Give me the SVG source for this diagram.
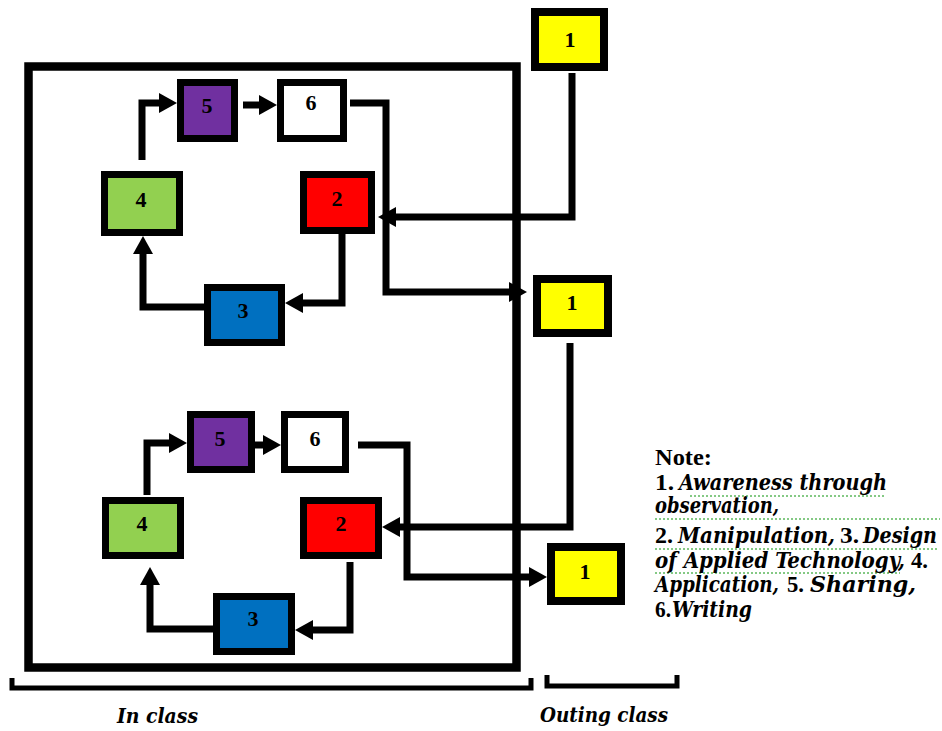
<svg xmlns="http://www.w3.org/2000/svg" width="942" height="731" viewBox="0 0 942 731">
<style>
.box{stroke:#000;stroke-width:7}
.yb{fill:#FFFF00;stroke:#000;stroke-width:8}
.lbl{font-family:"Liberation Serif",serif;font-weight:bold;font-size:22px;text-anchor:middle;fill:#000}
.con{fill:none;stroke:#000;stroke-width:7;stroke-linejoin:miter}
.brace{fill:none;stroke:#000;stroke-width:5}
.note{font-family:"Liberation Serif",serif;font-weight:bold;font-size:24px;fill:#000}
.it{font-family:"DejaVu Serif","Liberation Serif",serif;font-style:italic;font-weight:bold;font-stretch:condensed;font-size:22px;fill:#000}
.cap{font-family:"DejaVu Serif","Liberation Serif",serif;font-weight:bold;font-style:italic;font-stretch:condensed;font-size:21px;fill:#000}
.sq{fill:none;stroke:#5cb85c;stroke-width:1.5;stroke-dasharray:2 2}
</style>
<defs>
<marker id="ah" markerUnits="userSpaceOnUse" markerWidth="20" markerHeight="20" refX="0" refY="0" viewBox="0 -10 20 20" orient="auto" overflow="visible">
<path d="M0,-10 L18,0 L0,10 z" fill="#000"/>
</marker>
</defs>
<rect width="942" height="731" fill="#fff"/>
<g id="inclass-frame">
<rect x="28.5" y="66.5" width="488" height="601" fill="none" stroke="#000" stroke-width="8.5"/>
</g>
<g id="connectors">
<path class="con" d="M142,160 V103 H159" marker-end="url(#ah)"/>
<path class="con" d="M243,105 H259" marker-end="url(#ah)"/>
<path class="con" d="M350,103 H386 V292 H509" marker-end="url(#ah)"/>
<path class="con" d="M572,73 V217 H396" marker-end="url(#ah)"/>
<path class="con" d="M342,234 V303 H303" marker-end="url(#ah)"/>
<path class="con" d="M204,307 H143 V254" marker-end="url(#ah)"/>
<path class="con" d="M147,495 V443 H169" marker-end="url(#ah)"/>
<path class="con" d="M255,445 H263" marker-end="url(#ah)"/>
<path class="con" d="M358,445 H407 V577 H529" marker-end="url(#ah)"/>
<path class="con" d="M570,343 V527 H400" marker-end="url(#ah)"/>
<path class="con" d="M350,562 V630 H313" marker-end="url(#ah)"/>
<path class="con" d="M213,629 H150 V585" marker-end="url(#ah)"/>
</g>
<g id="top-5"><rect class="box" x="180.5" y="82.5" width="54" height="56" fill="#7030A0"/><text class="lbl" x="207" y="113">5</text></g>
<g id="top-6"><rect class="box" x="280.5" y="82.5" width="63" height="56" fill="#fff"/><text class="lbl" x="311" y="110">6</text></g>
<g id="top-4"><rect class="box" x="104.5" y="174.5" width="75" height="58" fill="#92D050"/><text class="lbl" x="141" y="207">4</text></g>
<g id="top-2"><rect class="box" x="303.5" y="174.5" width="68" height="56" fill="#FF0000"/><text class="lbl" x="337" y="206">2</text></g>
<g id="top-3"><rect class="box" x="207.5" y="287.5" width="74" height="55" fill="#0070C0"/><text class="lbl" x="243" y="318">3</text></g>
<g id="bot-5"><rect class="box" x="190.5" y="414.5" width="61" height="55" fill="#7030A0"/><text class="lbl" x="220" y="446">5</text></g>
<g id="bot-6"><rect class="box" x="284.5" y="414.5" width="61" height="55" fill="#fff"/><text class="lbl" x="315" y="446">6</text></g>
<g id="bot-4"><rect class="box" x="105.5" y="500.5" width="75" height="55" fill="#92D050"/><text class="lbl" x="142" y="531">4</text></g>
<g id="bot-2"><rect class="box" x="303.5" y="500.5" width="75" height="55" fill="#FF0000"/><text class="lbl" x="341" y="531">2</text></g>
<g id="bot-3"><rect class="box" x="216.5" y="596.5" width="75" height="55" fill="#0070C0"/><text class="lbl" x="253" y="626">3</text></g>
<g id="out-1a"><rect class="yb" x="535" y="12" width="69" height="55"/><text class="lbl" x="570" y="47">1</text></g>
<g id="out-1b"><rect class="yb" x="537" y="279" width="71" height="54"/><text class="lbl" x="572" y="310">1</text></g>
<g id="out-1c"><rect class="yb" x="551" y="547" width="70" height="54"/><text class="lbl" x="585" y="579">1</text></g>
<g id="braces">
<path class="brace" d="M12,678 V688 H531 V678"/>
<path class="brace" d="M547,675 V686 H677 V675"/>
<text class="cap" x="117" y="723" textLength="81" lengthAdjust="spacingAndGlyphs">In class</text>
<text class="cap" x="540" y="722" textLength="128" lengthAdjust="spacingAndGlyphs">Outing class</text>
</g>
<g id="note">
<path class="sq" d="M690,496 H885 M655,519 H940 M655,549 H937 M655,573 H900"/>
<text class="note" x="655" y="465" textLength="57" lengthAdjust="spacingAndGlyphs">Note:</text>
<text class="note" x="655" y="490" textLength="19" lengthAdjust="spacingAndGlyphs">1.</text>
<text class="it" x="679" y="490" textLength="208" lengthAdjust="spacingAndGlyphs">Awareness through</text>
<text class="it" x="655" y="513" textLength="124" lengthAdjust="spacingAndGlyphs">observation,</text>
<text class="note" x="655" y="543" textLength="18" lengthAdjust="spacingAndGlyphs">2.</text>
<text class="it" x="678" y="543" textLength="157" lengthAdjust="spacingAndGlyphs">Manipulation,</text>
<text class="note" x="840" y="543" textLength="19" lengthAdjust="spacingAndGlyphs">3.</text>
<text class="it" x="863" y="543" textLength="74" lengthAdjust="spacingAndGlyphs">Design</text>
<text class="it" x="655" y="568" textLength="250" lengthAdjust="spacingAndGlyphs">of Applied Technology,</text>
<text class="note" x="911" y="568" textLength="17" lengthAdjust="spacingAndGlyphs">4.</text>
<text class="it" x="655" y="592" textLength="124" lengthAdjust="spacingAndGlyphs">Application,</text>
<text class="note" x="787" y="592" textLength="17" lengthAdjust="spacingAndGlyphs">5.</text>
<text class="it" x="810" y="592" textLength="106" lengthAdjust="spacingAndGlyphs">Sharing,</text>
<text class="note" x="655" y="617" textLength="16" lengthAdjust="spacingAndGlyphs">6.</text>
<text class="it" x="672" y="617" textLength="80" lengthAdjust="spacingAndGlyphs">Writing</text>
</g>
</svg>
